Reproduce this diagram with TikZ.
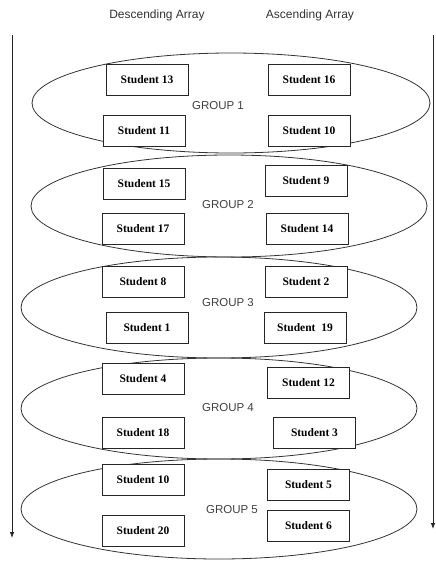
\documentclass[tikz,border=0pt]{standalone}
\usepackage{fontspec}
\setmainfont{Liberation Serif}
\newfontfamily\arialfont{Liberation Sans}
\usetikzlibrary{shapes.geometric,arrows.meta}
\tikzset{
  stud/.style={draw=black!85, line width=0.9pt, fill=white, minimum width=82pt, minimum height=31pt, inner sep=0pt,
    font=\fontsize{11.5}{13}\selectfont\bfseries},
  grp/.style={draw=black!80, line width=0.8pt, ellipse, inner sep=0pt},
  glabel/.style={font=\arialfont\fontsize{11.5}{13}\selectfont, text=black!75, inner sep=0pt},
  head/.style={font=\arialfont\fontsize{12}{14}\selectfont, text=black!80, inner sep=0pt},
  timeline/.style={draw=black!85, line width=0.8pt, -{Latex[length=6pt,width=4.5pt]}}
}
\begin{document}
\begin{tikzpicture}[x=1pt,y=-1pt]
\useasboundingbox (0,0) rectangle (436,563);
% headers
\node[head] (hd) at (157,15) {Descending Array};
\node[head] (ha) at (310,15) {Ascending Array};
% arrows
\coordinate (ls) at (12,35);
\coordinate (le) at (12,538);
\coordinate (rs) at (433,35);
\coordinate (re) at (433,529);
\draw[timeline] (ls) -- (le);
\draw[timeline] (rs) -- (re);
% ellipses
\node[grp, minimum width=398pt, minimum height=100pt] (g1) at (231,103) {};
\node[grp, minimum width=396pt, minimum height=102pt] (g2) at (229,206) {};
\node[grp, minimum width=396pt, minimum height=101pt] (g3) at (219,307.5) {};
\node[grp, minimum width=396pt, minimum height=101pt] (g4) at (219,408.5) {};
\node[grp, minimum width=396pt, minimum height=100pt] (g5) at (219,509) {};
% group labels
\node[glabel] (l1) at (218,106) {GROUP 1};
\node[glabel] (l2) at (228,205) {GROUP 2};
\node[glabel] (l3) at (228,303) {GROUP 3};
\node[glabel] (l4) at (228,408) {GROUP 4};
\node[glabel] (l5) at (232,510) {GROUP 5};
% students
\node[stud] (s13) at (147,80) {Student 13};
\node[stud] (s16) at (309,80) {Student 16};
\node[stud] (s11) at (144,130.5) {Student 11};
\node[stud] (s10a) at (309,130.5) {Student 10};
\node[stud] (s15) at (144,184) {Student 15};
\node[stud] (s9) at (306,180.5) {Student 9};
\node[stud] (s17) at (143,229) {Student 17};
\node[stud] (s14) at (307,229) {Student 14};
\node[stud] (s8) at (143,282) {Student 8};
\node[stud] (s2) at (306,282) {Student 2};
\node[stud] (s1) at (147,327.5) {Student 1};
\node[stud] (s19) at (305,327.5) {Student\ \ 19};
\node[stud] (s4) at (143,378.5) {Student 4};
\node[stud] (s12) at (308.5,382.5) {Student 12};
\node[stud] (s18) at (143,432.5) {Student 18};
\node[stud] (s3) at (314.5,432.5) {Student 3};
\node[stud] (s10b) at (143,479.5) {Student 10};
\node[stud] (s5) at (308.5,484.5) {Student 5};
\node[stud] (s20) at (143,530.5) {Student 20};
\node[stud] (s6) at (308.5,525.5) {Student 6};
\end{tikzpicture}
\end{document}
